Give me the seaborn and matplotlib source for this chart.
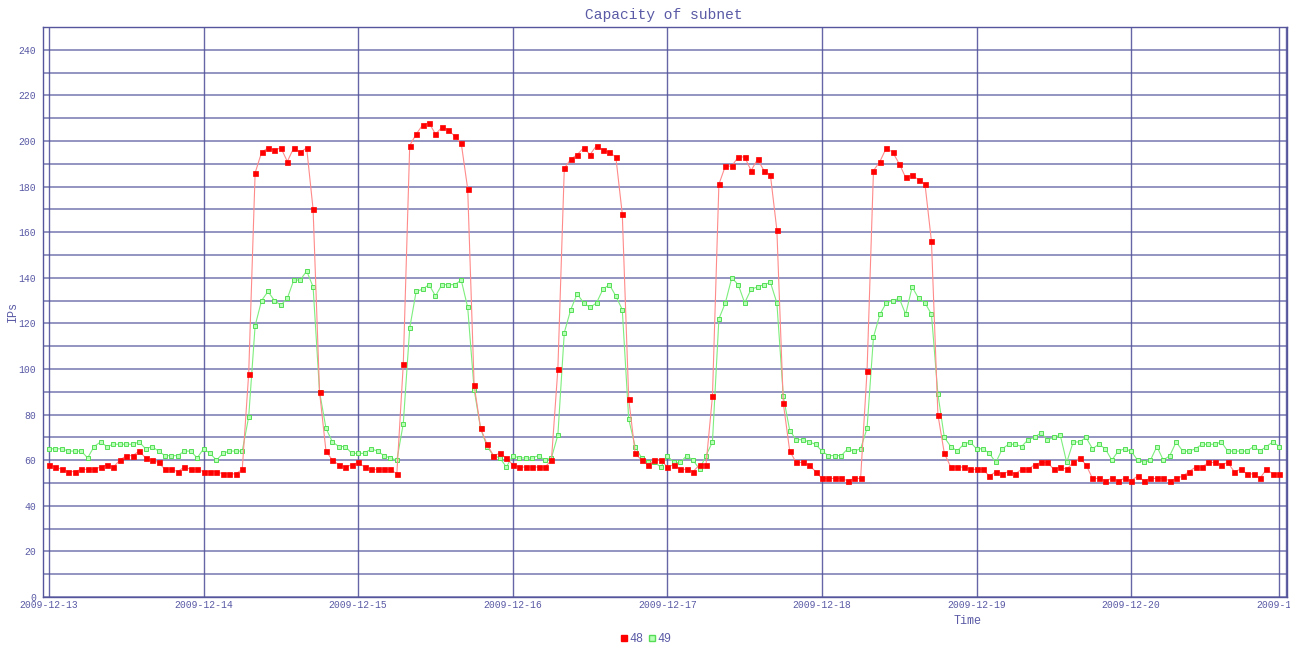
import matplotlib
matplotlib.use("Agg")
import numpy as np
import pandas as pd
import seaborn as sns
import matplotlib.pyplot as plt
from matplotlib.lines import Line2D

# ---------------- data (hourly samples, 2009-12-13 00:00 .. 2009-12-20 23:00) ----------------
start_time = "2009-12-13 00:00"

ips_48 = [
    # 12-13
    58, 57, 56, 55, 55, 56, 56, 56, 57, 58, 57, 60, 62, 62, 64, 61, 60, 59, 56, 56, 55, 57, 56, 56,
    # 12-14
    55, 55, 55, 54, 54, 54, 56, 98, 186, 195, 197, 196, 197, 191, 197, 195, 197, 170, 90, 64, 60, 58, 57, 58,
    # 12-15
    59, 57, 56, 56, 56, 56, 54, 102, 198, 203, 207, 208, 203, 206, 205, 202, 199, 179, 93, 74, 67, 62, 63, 61,
    # 12-16
    58, 57, 57, 57, 57, 57, 60, 100, 188, 192, 194, 197, 194, 198, 196, 195, 193, 168, 87, 63, 60, 58, 60, 60,
    # 12-17
    57, 58, 56, 56, 55, 58, 58, 88, 181, 189, 189, 193, 193, 187, 192, 187, 185, 161, 85, 64, 59, 59, 58, 55,
    # 12-18
    52, 52, 52, 52, 51, 52, 52, 99, 187, 191, 197, 195, 190, 184, 185, 183, 181, 156, 80, 63, 57, 57, 57, 56,
    # 12-19
    56, 56, 53, 55, 54, 55, 54, 56, 56, 58, 59, 59, 56, 57, 56, 59, 61, 58, 52, 52, 51, 52, 51, 52,
    # 12-20
    51, 53, 51, 52, 52, 52, 51, 52, 53, 55, 57, 57, 59, 59, 58, 59, 55, 56, 54, 54, 52, 56, 54, 54,
]

ips_49 = [
    # 12-13
    65, 65, 65, 64, 64, 64, 61, 66, 68, 66, 67, 67, 67, 67, 68, 65, 66, 64, 62, 62, 62, 64, 64, 61,
    # 12-14
    65, 63, 60, 63, 64, 64, 64, 79, 119, 130, 134, 130, 128, 131, 139, 139, 143, 136, 90, 74, 68, 66, 66, 63,
    # 12-15
    63, 63, 65, 64, 62, 61, 60, 76, 118, 134, 135, 137, 132, 137, 137, 137, 139, 127, 91, 74, 66, 62, 61, 57,
    # 12-16
    62, 61, 61, 61, 62, 60, 61, 71, 116, 126, 133, 129, 127, 129, 135, 137, 132, 126, 78, 66, 61, 59, 59, 57,
    # 12-17
    62, 59, 59, 62, 60, 56, 62, 68, 122, 129, 140, 137, 129, 135, 136, 137, 138, 129, 88, 73, 69, 69, 68, 67,
    # 12-18
    64, 62, 62, 62, 65, 64, 65, 74, 114, 124, 129, 130, 131, 124, 136, 131, 129, 124, 89, 70, 66, 64, 67, 68,
    # 12-19
    65, 65, 63, 59, 65, 67, 67, 66, 69, 70, 72, 69, 70, 71, 59, 68, 68, 70, 65, 67, 65, 60, 64, 65,
    # 12-20
    64, 60, 59, 60, 66, 60, 62, 68, 64, 64, 65, 67, 67, 67, 68, 64, 64, 64, 64, 66, 64, 66, 68, 66,
]

series_names = ["48", "49"]
day_labels = ["2009-12-13", "2009-12-14", "2009-12-15", "2009-12-16", "2009-12-17",
              "2009-12-18", "2009-12-19", "2009-12-20", "2009-12-21"]
y_tick_values = [0, 20, 40, 60, 80, 100, 120, 140, 160, 180, 200, 220, 240]

times = pd.date_range(start_time, periods=len(ips_48), freq="h")
df = pd.DataFrame({"Time": list(times) * 2,
                   "IPs": ips_48 + ips_49,
                   "series": [series_names[0]] * len(ips_48) + [series_names[1]] * len(ips_49)})

# ---------------- style ----------------
sns.set_theme(style="white")
plt.rcParams["font.family"] = ["Liberation Mono", "DejaVu Sans"]

ink = "#5a5aa6"
grid_col = "#55559c"

fig = plt.figure(figsize=(12.9, 6.52), dpi=100)
ax = fig.add_axes([43 / 1290, 1 - 597 / 652, (1287 - 43) / 1290, (597 - 27) / 652])

d48 = df[df["series"] == "48"]
d49 = df[df["series"] == "49"]
sns.lineplot(data=d48, x="Time", y="IPs", ax=ax, color="#ff8a8a", linewidth=0.8,
             marker="s", markersize=3.6, markerfacecolor="#ff0000",
             markeredgecolor="#ff0000", markeredgewidth=0.5, legend=False, zorder=4)
sns.lineplot(data=d49, x="Time", y="IPs", ax=ax, color="#7dee7d", linewidth=0.8,
             marker="s", markersize=3.4, markerfacecolor="#b8ffb8",
             markeredgecolor="#55dd55", markeredgewidth=0.7, legend=False, zorder=3)

# axes limits
day_ticks = pd.to_datetime(day_labels)
ax.set_xlim(times[0] - pd.Timedelta(minutes=56), day_ticks[-1] + pd.Timedelta(minutes=12))
ax.set_ylim(0, 250)

ax.set_xticks(day_ticks)
ax.set_xticklabels(day_labels)
ax.set_yticks(y_tick_values)
ax.set_yticks(list(range(10, 251, 20)), minor=True)

ax.grid(True, which="both", axis="y", color=grid_col, linewidth=1.1, alpha=0.8)
ax.grid(True, which="major", axis="x", color=grid_col, linewidth=1.0, alpha=0.9)
ax.axvline(times[-1], color=grid_col, linewidth=1.0, alpha=0.9, zorder=1)

for s in ax.spines.values():
    s.set_visible(True)
    s.set_color(grid_col)
    s.set_linewidth(1.0)

ax.tick_params(axis="both", which="both", length=0, colors=ink, labelsize=7)
ax.tick_params(axis="y", pad=5)
ax.tick_params(axis="x", pad=2)
ax.set_xlabel("")
ax.set_ylabel("")

# texts
fig.text(664 / 1290, 1 - 15 / 652, "Capacity of subnet", ha="center", va="center",
         fontsize=10.5, color=ink)
fig.text(13 / 1290, 1 - 312 / 652, "IPs", ha="center", va="center", rotation=90,
         fontsize=8.5, color=ink)
fig.text(968 / 1290, 1 - 621 / 652, "Time", ha="center", va="center",
         fontsize=8.5, color=ink)

handles = [Line2D([], [], marker="s", linestyle="none", color="#ff0000", markersize=4),
           Line2D([], [], marker="s", linestyle="none", markerfacecolor="#b8ffb8",
                  markeredgecolor="#55dd55", markersize=4)]
fig.legend(handles, series_names, loc="center", bbox_to_anchor=(646 / 1290, 1 - 639 / 652),
           ncol=2, frameon=False, handlelength=0.5, handletextpad=0.2, columnspacing=0.5,
           fontsize=8.5, labelcolor=ink)

fig.savefig("out.png", dpi=100)
